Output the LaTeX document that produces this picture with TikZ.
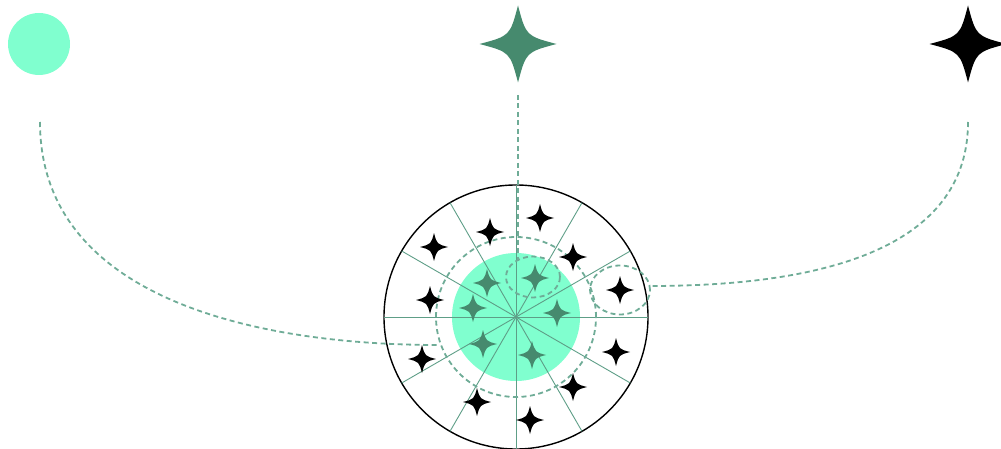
\documentclass[tikz,border=0pt]{standalone}
\usetikzlibrary{shapes.geometric}
\definecolor{lightgreen}{HTML}{80FFCF}
\definecolor{darkgreen}{HTML}{468A6E}
\definecolor{dashgreen}{HTML}{6FAC97}
\definecolor{spokegreen}{HTML}{5E9E87}
\tikzset{
  sparkle/.pic={\fill[pic actions] (0,1) .. controls (0.21,0.21) .. (1,0) .. controls (0.21,-0.21) .. (0,-1) .. controls (-0.21,-0.21) .. (-1,0) .. controls (-0.21,0.21) .. cycle;},
  conn/.style={draw=dashgreen, line width=1.8pt, dash pattern=on 5pt off 3.5pt},
  spoke/.style={draw=spokegreen, line width=0.9pt},
  blackstar/.style={fill=black, scale=14},
  greenstar/.style={fill=darkgreen, scale=14},
}
\begin{document}
\begin{tikzpicture}[x=1pt,y=-1pt]
\useasboundingbox (0,0) rectangle (1001,449);
\clip (0,0) rectangle (1001,449);
% top icons
\node (dot) [circle, fill=lightgreen, minimum size=62pt, inner sep=0pt] at (39,44) {};
\pic (gstar) [fill=darkgreen, scale=38.5] at (518,44) {sparkle};
\pic (kstar) [fill=black, scale=38.5] at (968,44) {sparkle};
% wheel
\coordinate (c) at (516,317);
\node (wheel) [circle, draw=black, line width=1.4pt, minimum size=264pt, inner sep=0pt] at (c) {};
\node (core) [circle, fill=lightgreen, minimum size=128pt, inner sep=0pt] at (c) {};
\foreach \a in {0,30,...,330} \draw[spoke] (c) -- ++(\a:132);
\node (ring) [circle, conn, minimum size=160pt, inner sep=0pt] at (c) {};
\node (topell) [ellipse, conn, minimum width=54pt, minimum height=41pt, inner sep=0pt] at (533,277) {};
\node (rightell) [ellipse, conn, minimum width=60pt, minimum height=49pt, inner sep=0pt] at (620,290) {};
% stars
\foreach \p [count=\i] in {(540,218),(490,232),(434,247),(573,257),(620,290),(430,300),(616,352),(422,359),(573,387),(477,402),(530,420)}
  \pic (b\i) [blackstar] at \p {sparkle};
\foreach \p [count=\i] in {(535,278),(487,283),(473,308),(557,313),(483,344),(532,355)}
  \pic (g\i) [greenstar] at \p {sparkle};
% connectors
\coordinate (dotend) at (40,122);
\coordinate (gend) at (518,95);
\coordinate (kend) at (968,122);
\coordinate (lend) at (438,345);
\coordinate (rend) at (650,286);
\coordinate (mend) at (518,261);
\draw[conn] (dotend) to[out=-90,in=180] (lend);
\draw[conn] (gend) -- (mend);
\draw[conn] (kend) to[out=-90,in=0] (rend);
\end{tikzpicture}
\end{document}
